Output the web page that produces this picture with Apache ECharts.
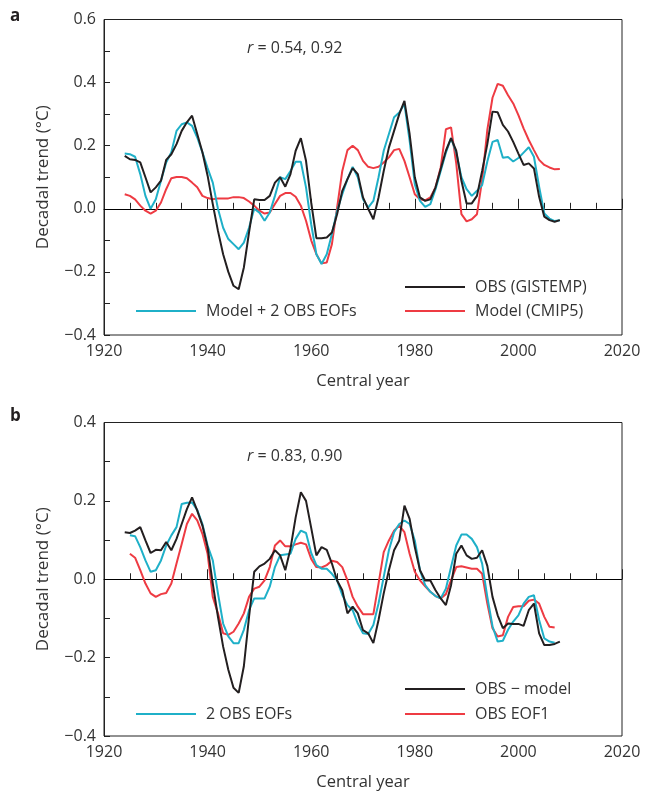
<!DOCTYPE html>
<html>
<head>
<meta charset="utf-8">
<script src="https://cdn.jsdelivr.net/npm/echarts@6/dist/echarts.min.js"></script>
<style>html,body{margin:0;padding:0;background:#fff;}#c{width:645px;height:792px;}</style>
</head>
<body>
<div id="c"></div>
<script>
const years = [1924,1925,1926,1927,1928,1929,1930,1931,1932,1933,1934,1935,1936,1937,1938,1939,1940,1941,1942,1943,1944,1945,1946,1947,1948,1949,1950,1951,1952,1953,1954,1955,1956,1957,1958,1959,1960,1961,1962,1963,1964,1965,1966,1967,1968,1969,1970,1971,1972,1973,1974,1975,1976,1977,1978,1979,1980,1981,1982,1983,1984,1985,1986,1987,1988,1989,1990,1991,1992,1993,1994,1995,1996,1997,1998,1999,2000,2001,2002,2003,2004,2005,2006,2007,2008];

// Panel a
const obsGistemp = [0.168,0.157,0.155,0.147,0.10,0.052,0.068,0.089,0.155,0.173,0.205,0.247,0.274,0.295,0.237,0.179,0.105,0.015,-0.07,-0.144,-0.20,-0.244,-0.255,-0.186,-0.075,0.03,0.028,0.028,0.041,0.083,0.10,0.07,0.11,0.184,0.224,0.152,0.02,-0.093,-0.093,-0.091,-0.075,-0.017,0.057,0.094,0.129,0.11,0.036,0.0,-0.033,0.036,0.12,0.194,0.247,0.30,0.342,0.237,0.10,0.036,0.025,0.03,0.068,0.126,0.184,0.224,0.184,0.089,0.017,0.017,0.041,0.12,0.205,0.308,0.306,0.266,0.245,0.212,0.175,0.139,0.144,0.128,0.038,-0.025,-0.036,-0.041,-0.036];
const modelPlusEofs = [0.175,0.173,0.165,0.11,0.041,0.0,0.03,0.089,0.147,0.179,0.247,0.268,0.274,0.263,0.226,0.179,0.129,0.083,0.0,-0.06,-0.096,-0.112,-0.128,-0.107,-0.06,0.0,-0.012,-0.038,-0.012,0.041,0.10,0.094,0.12,0.149,0.149,0.068,-0.049,-0.144,-0.175,-0.144,-0.08,-0.006,0.046,0.094,0.133,0.10,0.03,0.004,0.025,0.10,0.184,0.237,0.29,0.305,0.332,0.216,0.078,0.025,0.006,0.015,0.062,0.12,0.178,0.224,0.178,0.10,0.062,0.041,0.057,0.075,0.15,0.212,0.218,0.162,0.164,0.15,0.161,0.178,0.195,0.165,0.07,-0.015,-0.031,-0.039,-0.036];
const modelCmip5 = [0.046,0.041,0.03,0.01,-0.006,-0.015,-0.006,0.02,0.062,0.097,0.101,0.101,0.097,0.083,0.068,0.041,0.034,0.03,0.033,0.033,0.033,0.037,0.037,0.034,0.023,0.01,-0.006,-0.015,-0.012,0.015,0.041,0.05,0.05,0.038,0.01,-0.038,-0.1,-0.144,-0.173,-0.17,-0.112,0.004,0.12,0.186,0.2,0.186,0.152,0.133,0.129,0.133,0.147,0.163,0.186,0.19,0.152,0.10,0.046,0.03,0.027,0.036,0.068,0.131,0.252,0.258,0.144,-0.017,-0.04,-0.033,-0.017,0.091,0.25,0.352,0.396,0.39,0.36,0.334,0.297,0.255,0.218,0.186,0.155,0.139,0.131,0.125,0.126];

// Panel b
const obsMinusModel = [0.12,0.118,0.124,0.133,0.099,0.067,0.075,0.074,0.095,0.074,0.103,0.141,0.179,0.209,0.175,0.137,0.082,-0.011,-0.096,-0.172,-0.231,-0.277,-0.29,-0.222,-0.096,0.019,0.033,0.04,0.052,0.074,0.061,0.023,0.078,0.158,0.222,0.20,0.131,0.061,0.082,0.075,0.04,-0.003,-0.028,-0.087,-0.07,-0.087,-0.13,-0.138,-0.163,-0.104,-0.036,0.023,0.074,0.099,0.188,0.154,0.082,0.023,-0.003,-0.003,-0.028,-0.049,-0.066,-0.015,0.065,0.086,0.061,0.052,0.055,0.074,0.034,-0.045,-0.092,-0.125,-0.113,-0.114,-0.114,-0.119,-0.079,-0.062,-0.138,-0.168,-0.168,-0.165,-0.159];
const twoObsEofs = [null,0.112,0.11,0.082,0.048,0.019,0.023,0.048,0.086,0.112,0.133,0.192,0.195,0.196,0.177,0.141,0.086,0.048,-0.036,-0.113,-0.146,-0.163,-0.163,-0.129,-0.079,-0.049,-0.049,-0.049,-0.019,0.031,0.061,0.063,0.065,0.103,0.124,0.118,0.067,0.036,0.027,0.027,0.014,-0.003,-0.04,-0.066,-0.079,-0.113,-0.138,-0.14,-0.117,-0.062,0.006,0.074,0.12,0.141,0.15,0.141,0.099,0.023,-0.015,-0.032,-0.043,-0.049,-0.024,0.031,0.086,0.114,0.114,0.103,0.082,0.04,-0.045,-0.12,-0.159,-0.157,-0.129,-0.108,-0.092,-0.062,-0.045,-0.041,-0.104,-0.151,-0.159,-0.162,null];
const obsEof1 = [null,0.065,0.055,0.023,-0.011,-0.036,-0.045,-0.038,-0.035,-0.011,0.04,0.09,0.141,0.167,0.15,0.116,0.065,-0.045,-0.087,-0.138,-0.142,-0.134,-0.113,-0.087,-0.045,-0.024,-0.019,-0.003,0.031,0.086,0.099,0.084,0.084,0.089,0.093,0.089,0.052,0.031,0.03,0.036,0.047,0.044,0.031,-0.003,-0.045,-0.07,-0.089,-0.089,-0.089,-0.011,0.069,0.099,0.124,0.137,0.12,0.065,0.019,-0.003,-0.018,-0.032,-0.043,-0.049,-0.038,-0.003,0.031,0.033,0.03,0.027,0.027,0.014,-0.062,-0.125,-0.146,-0.143,-0.096,-0.071,-0.069,-0.069,-0.055,-0.052,-0.062,-0.096,-0.121,-0.123,null];

const rTextA = '0.54, 0.92';
const rTextB = '0.83, 0.90';

const FONT = 'Open Sans';
const TXT = '#333';
const BLACK = '#231f20', CYAN = '#1fb0c8', RED = '#ee3b43';

function pairs(vals){ return years.map((y,i)=>[y, vals[i]]); }
function yfmt(v){ if (Math.abs(v) < 1e-9) return '0.0'; return v.toFixed(1).replace('-', '\u2212'); }

const gridA = {left:104, top:19.5, width:518, height:315.5, show:true, borderColor:'#222', borderWidth:1};
const gridB = {left:104, top:422.5, width:518, height:315.5, show:true, borderColor:'#222', borderWidth:1};

function xAx(gi){
  return {type:'value', gridIndex:gi, min:1920, max:2020, interval:20,
    name:'Central year', nameLocation:'middle', nameGap:38,
    nameTextStyle:{fontFamily:FONT, fontSize:16.5, color:TXT},
    axisLine:{show:true, lineStyle:{color:'#222', width:1}},
    axisTick:{show:true, inside:true, length:10, lineStyle:{color:'#222'}},
    minorTick:{show:true, splitNumber:4, length:6, lineStyle:{color:'#222'}},
    splitLine:{show:false},
    axisLabel:{fontFamily:FONT, fontSize:16, color:TXT, margin:8, formatter:v=>String(v)}};
}
function yAx(gi, mn, mx){
  return {type:'value', gridIndex:gi, min:mn, max:mx, interval:0.2,
    name:'Decadal trend (\u00b0C)', nameLocation:'middle', nameGap:52,
    nameTextStyle:{fontFamily:FONT, fontSize:17, color:TXT},
    axisLine:{show:true, lineStyle:{color:'#222', width:1}},
    axisTick:{show:true, inside:true, length:6, lineStyle:{color:'#222'}},
    minorTick:{show:true, splitNumber:2, length:6, lineStyle:{color:'#222'}},
    splitLine:{show:false},
    axisLabel:{fontFamily:FONT, fontSize:16, color:TXT, margin:8, formatter:yfmt}};
}
function ser(name, vals, color, gi, zero){
  const s = {name:name, type:'line', xAxisIndex:gi, yAxisIndex:gi, data:pairs(vals),
    symbol:'none', showSymbol:false, connectNulls:false,
    lineStyle:{color:color, width:2}, itemStyle:{color:color}, z:3};
  if (zero) s.markLine = {silent:true, symbol:'none', label:{show:false},
    lineStyle:{color:'#000', width:1, type:'solid'}, data:[{yAxis:0}], z:1};
  return s;
}
function leg(name, left, cy){
  return {data:[name], left:left, top:cy-8, padding:0, itemWidth:60, itemHeight:2,
    icon:'rect', selectedMode:false,
    textStyle:{fontFamily:FONT, fontSize:16, color:TXT, padding:[0,0,0,5]}};
}

const chart = echarts.init(document.getElementById('c'), null, {renderer:'canvas'});
chart.setOption({
  animation:false,
  backgroundColor:'#fff',
  grid:[gridA, gridB],
  xAxis:[xAx(0), xAx(1)],
  yAxis:[yAx(0,-0.4,0.6), yAx(1,-0.4,0.4)],
  legend:[
    leg('OBS (GISTEMP)', 405, 287),
    leg('Model + 2 OBS EOFs', 136, 311),
    leg('Model (CMIP5)', 405, 311),
    leg('OBS \u2212 model', 405, 689),
    leg('2 OBS EOFs', 136, 714),
    leg('OBS EOF1', 405, 714)
  ],
  series:[
    ser('Model (CMIP5)', modelCmip5, RED, 0, true),
    ser('Model + 2 OBS EOFs', modelPlusEofs, CYAN, 0, false),
    ser('OBS (GISTEMP)', obsGistemp, BLACK, 0, false),
    ser('OBS EOF1', obsEof1, RED, 1, true),
    ser('2 OBS EOFs', twoObsEofs, CYAN, 1, false),
    ser('OBS \u2212 model', obsMinusModel, BLACK, 1, false)
  ],
  graphic:[
    {type:'text', left:10, top:8, style:{text:'a', fontFamily:FONT, fontWeight:'bold', fontSize:17, fill:'#231f20'}},
    {type:'text', left:10, top:408, style:{text:'b', fontFamily:FONT, fontWeight:'bold', fontSize:17, fill:'#231f20'}},
    {type:'text', left:247, top:40, style:{text:'{i|r} = ' + rTextA, fontFamily:FONT, fontSize:16, fill:TXT,
      rich:{i:{fontStyle:'italic', fontFamily:FONT, fontSize:16, fill:TXT}}}},
    {type:'text', left:247, top:448, style:{text:'{i|r} = ' + rTextB, fontFamily:FONT, fontSize:16, fill:TXT,
      rich:{i:{fontStyle:'italic', fontFamily:FONT, fontSize:16, fill:TXT}}}}
  ]
});
</script>
</body>
</html>
